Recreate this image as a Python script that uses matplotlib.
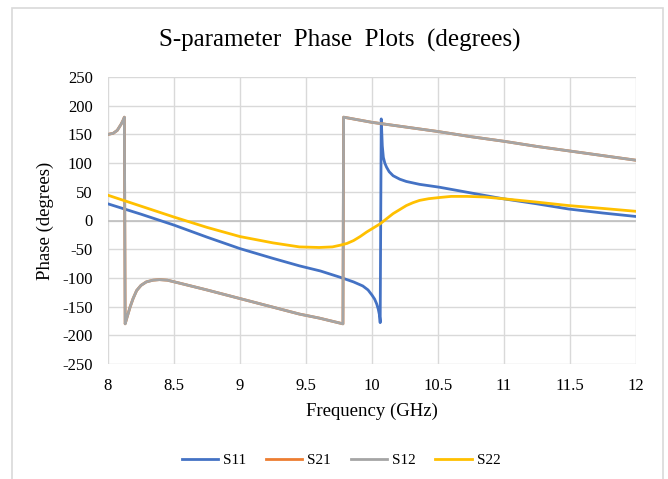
import matplotlib
matplotlib.use("Agg")
import matplotlib.pyplot as plt
from matplotlib.patches import Rectangle

plt.rcParams['font.family'] = ['Liberation Serif', 'DejaVu Serif']
plt.rcParams['axes.unicode_minus'] = False

# S11 phase (GHz, degrees)
s11_f = [8.0, 8.25, 8.5, 8.75, 9.0, 9.25, 9.45, 9.61, 9.76, 9.86, 9.93, 9.97, 10.0, 10.02, 10.035, 10.047,
         10.056, 10.06, 10.062, 10.07, 10.078, 10.086, 10.097, 10.11, 10.13, 10.16, 10.21, 10.26, 10.36,
         10.51, 10.75, 10.99, 11.25, 11.49, 11.75, 12.0]
s11_v = [29, 11, -8, -29, -49, -66, -79, -88, -99, -107, -114, -121, -130, -137, -145, -154,
         -164, -172, -178, 177, 130, 110, 100, 93, 85, 78, 72, 68, 63,
         58, 48, 38, 29, 20, 13, 7]

# S12 / S21 phase (identical traces)
s12_f = [8.0, 8.04, 8.07, 8.1, 8.115, 8.124, 8.127, 8.13, 8.145, 8.167, 8.19, 8.217, 8.25, 8.29, 8.34, 8.39,
         8.45, 8.54, 8.75, 9.0, 9.25, 9.45, 9.6, 9.78, 9.785, 10.0, 10.25, 10.5, 10.75, 11.0, 11.25, 11.5,
         11.75, 12.0]
s12_v = [150, 152, 157, 168, 175, 180, 0, -180, -168, -151, -136, -122, -113, -107, -104, -103,
         -104, -109, -121, -136, -151, -163, -170, -180, 180, 171, 163, 155, 146, 138, 129, 121,
         113, 105]

# S22 phase
s22_f = [8.0, 8.25, 8.5, 8.75, 9.0, 9.25, 9.45, 9.6, 9.7, 9.76, 9.81, 9.86, 9.91, 9.96, 10.01, 10.06, 10.11,
         10.16, 10.21, 10.26, 10.31, 10.36, 10.43, 10.51, 10.6, 10.72, 10.85, 10.99, 11.25, 11.49, 11.75,
         12.0]
s22_v = [44, 25, 6, -12, -28, -39, -46, -47, -46, -43, -40, -35, -28, -20, -13, -6, 3,
         12, 19, 26, 31, 35, 38, 40, 42, 42, 41, 38, 32, 26, 21,
         16]

fig = plt.figure(figsize=(6.68, 4.79), dpi=100)
fig.patches.append(Rectangle((12 / 668, -0.1), 651 / 668, 1.1 - 8 / 479, transform=fig.transFigure,
                             fill=False, edgecolor='#d9d9d9', linewidth=1.2))
ax = fig.add_axes([108 / 668, 1 - 364 / 479, 528 / 668, 287 / 479])

ax.plot(s11_f, s11_v, color='#4472c4', lw=2, label='S11')
ax.plot(s12_f, s12_v, color='#ed7d31', lw=2, label='S21')
ax.plot(s12_f, s12_v, color='#a5a5a5', lw=2, label='S12')
ax.plot(s22_f, s22_v, color='#ffc000', lw=2, label='S22')

ax.set_xlim(8, 12)
ax.set_ylim(-250, 250)
ax.set_xticks([8, 8.5, 9, 9.5, 10, 10.5, 11, 11.5, 12])
ax.set_xticklabels(['8', '8.5', '9', '9.5', '10', '10.5', '11', '11.5', '12'])
ax.set_yticks(range(-250, 251, 50))
ax.grid(color='#d9d9d9', lw=1)
ax.set_axisbelow(True)
ax.axhline(0, color='#bfbfbf', lw=1.2, zorder=1)
for s in ax.spines.values():
    s.set_visible(False)
ax.tick_params(axis='x', length=0, labelsize=12, pad=10)
ax.tick_params(axis='y', length=0, labelsize=12, pad=11)

fig.text(340 / 668, 1 - 40 / 479, 'S-parameter  Phase  Plots  (degrees)', fontsize=18,
         ha='center', va='center')
ax.set_xlabel('Frequency (GHz)', fontsize=13.5, labelpad=6)
ax.set_ylabel('Phase (degrees)', fontsize=13.5, labelpad=6)

fig.legend(loc='center', bbox_to_anchor=(341 / 668, 1 - 460 / 479), ncol=4, frameon=False,
           fontsize=11, handlelength=2.4, columnspacing=1.3, handletextpad=0.3)

fig.savefig('out.png', dpi=100)
